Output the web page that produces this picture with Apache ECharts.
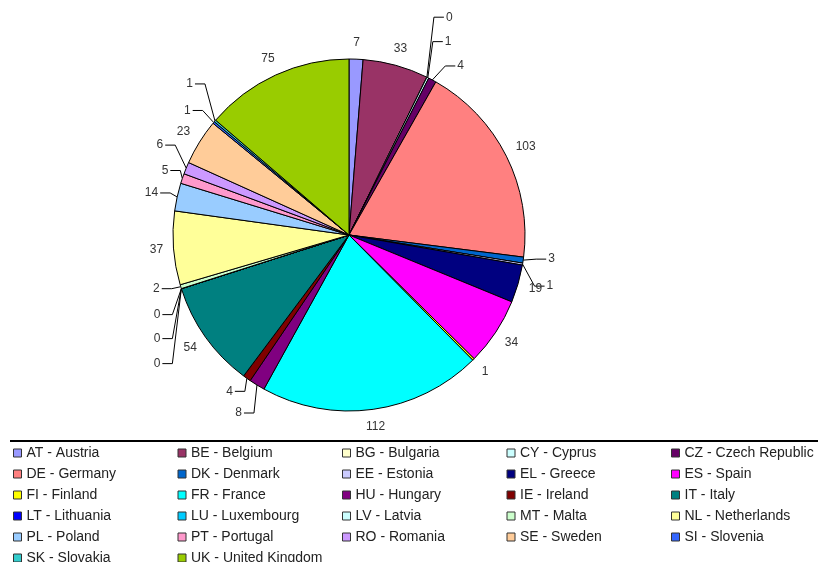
<!DOCTYPE html>
<html>
<head>
<meta charset="utf-8">
<script src="https://cdn.jsdelivr.net/npm/echarts@6/dist/echarts.min.js"></script>
<style>
  html, body { margin: 0; padding: 0; background: #fff; }
  #chart { width: 829px; height: 562px; }
</style>
</head>
<body>
<div id="chart"></div>
<script>
// countries, in legend order (clockwise from 12 o'clock in the pie)
var countries = [
    'AT - Austria', 'BE - Belgium', 'BG - Bulgaria', 'CY - Cyprus', 'CZ - Czech Republic',
    'DE - Germany', 'DK - Denmark', 'EE - Estonia', 'EL - Greece', 'ES - Spain',
    'FI - Finland', 'FR - France', 'HU - Hungary', 'IE - Ireland', 'IT - Italy',
    'LT - Lithuania', 'LU - Luxembourg', 'LV - Latvia', 'MT - Malta', 'NL - Netherlands',
    'PL - Poland', 'PT - Portugal', 'RO - Romania', 'SE - Sweden', 'SI - Slovenia',
    'SK - Slovakia', 'UK - United Kingdom'
];
var counts = [
    7, 33, 0, 1, 4,
    103, 3, 1, 19, 34,
    1, 112, 8, 4, 54,
    0, 0, 0, 2, 37,
    14, 5, 6, 23, 1,
    1, 75
];
// old excel chart palette
var colors = [
    '#9999FF', '#993366', '#FFFFCC', '#CCFFFF', '#660066',
    '#FF8080', '#0066CC', '#CCCCFF', '#000080', '#FF00FF',
    '#FFFF00', '#00FFFF', '#800080', '#800000', '#008080',
    '#0000FF', '#00CCFF', '#CCFFFF', '#CCFFCC', '#FFFF99',
    '#99CCFF', '#FF99CC', '#CC99FF', '#FFCC99', '#3366FF',
    '#33CCCC', '#99CC00'
];

// pie geometry + leader lines (elbow offset from the slice edge), styling only
var CX = 349, CY = 235, R = 176;
var leaders = {
    2: [7, -60], 3: [5, -36], 4: [13, -14],
    6: [13, -1], 7: [12, 22],
    12: [-3, 28], 13: [-2, 13],
    15: [-9, 75], 16: [-9, 50], 17: [-9, 26], 18: [-9, 2],
    20: [-7, -4], 21: [-2, -8], 22: [-11, -23],
    24: [-11, -12], 25: [-10, -37]
};

var total = counts.reduce(function (a, b) { return a + b; }, 0);
var midAngles = [];
(function () {
    var cum = 0;
    counts.forEach(function (v) {
        midAngles.push((cum + v / 2) / total * Math.PI * 2);
        cum += v;
    });
})();

var chart = echarts.init(document.getElementById('chart'));

var pieData = countries.map(function (name, i) {
    return {
        name: name,
        value: counts[i],
        itemStyle: {color: colors[i]},
        labelLine: {show: leaders[i] != null, length: 10, length2: 10}
    };
});

function layoutLabel(params) {
    var i = params.dataIndex;
    var a = midAngles[i];
    var sx = Math.sin(a), cy = -Math.cos(a);
    var ex = CX + R * sx, ey = CY + R * cy;
    var rect = params.labelRect;
    var lead = leaders[i];
    if (lead) {
        var right = sx > 0;
        var bx = ex + lead[0], by = ey + lead[1];
        var tx = bx + (right ? 10 : -10);
        return {
            x: tx + (right ? 2 : -2),
            y: by,
            align: right ? 'left' : 'right',
            verticalAlign: 'middle',
            labelLinePoints: [[ex, ey], [bx, by], [tx, by]]
        };
    }
    var ext = Math.abs(sx) * rect.width / 2 + Math.abs(cy) * rect.height / 2;
    var d = R + 10 + ext;
    return {
        x: CX + d * sx,
        y: CY + d * cy,
        align: 'center',
        verticalAlign: 'middle'
    };
}

var option = {
    animation: false,
    color: colors,
    textStyle: {fontFamily: 'Liberation Sans, Arial, sans-serif'},
    legend: {
        left: 8,
        top: 440,
        orient: 'horizontal',
        width: 829,
        itemWidth: 8,
        itemHeight: 8,
        itemGap: 5,
        icon: 'rect',
        itemStyle: {borderColor: '#333', borderWidth: 1},
        textStyle: {fontSize: 14, color: '#222', width: 146, lineHeight: 16, overflow: 'none'},
        data: countries
    },
    graphic: [{
        type: 'line',
        shape: {x1: 10, y1: 441, x2: 818, y2: 441},
        style: {stroke: '#000', lineWidth: 2}
    }],
    series: [{
        type: 'pie',
        center: [CX, CY],
        radius: R,
        startAngle: 90,
        clockwise: true,
        avoidLabelOverlap: false,
        itemStyle: {borderColor: '#000', borderWidth: 1},
        label: {
            show: true,
            position: 'outside',
            formatter: '{c}',
            fontSize: 12,
            color: '#333'
        },
        labelLine: {lineStyle: {color: '#000', width: 1}},
        labelLayout: layoutLabel,
        emphasis: {disabled: true},
        data: pieData
    }]
};

chart.setOption(option);
</script>
</body>
</html>
